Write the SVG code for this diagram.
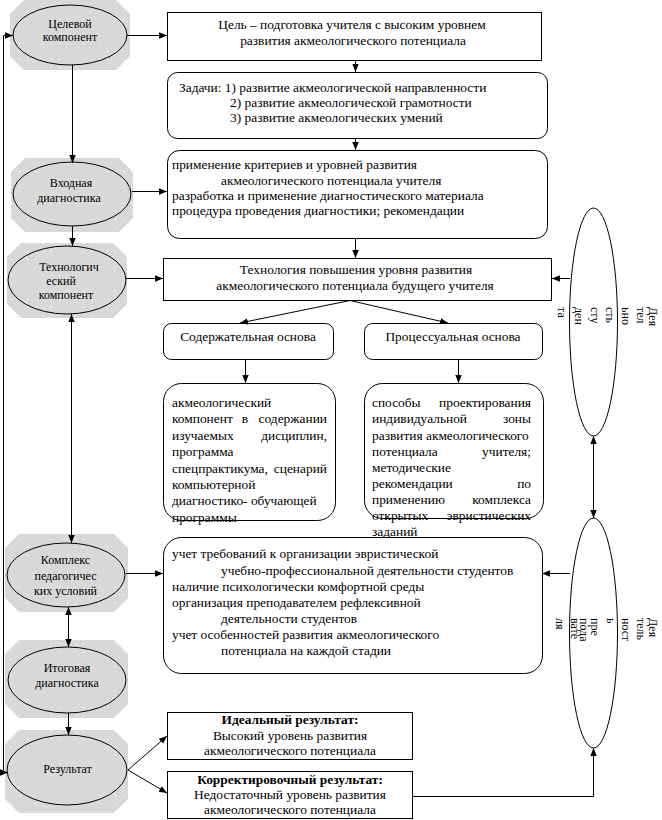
<svg xmlns="http://www.w3.org/2000/svg" width="662" height="820" viewBox="0 0 662 820">
<style>
.t{font-family:"Liberation Serif","Times New Roman",serif;font-size:13.4px;fill:#000}
.e{font-size:12px;text-anchor:middle}
.v{font-size:12px}
.m{text-anchor:middle}
.r{text-anchor:end}
.b{font-weight:bold}
.box{fill:#fff;stroke:#000;stroke-width:1}
.ell{fill:url(#dots);stroke:#000;stroke-width:1}
.sh{fill:url(#dots)}
.oval{fill:#fff;stroke:#000;stroke-width:1}
.c{fill:none;stroke:#000;stroke-width:1}
.a{marker-end:url(#ah)}
.d{marker-start:url(#ah);marker-end:url(#ah)}
</style>
<defs>
<pattern id="dots" width="8" height="8" patternUnits="userSpaceOnUse"><rect width="8" height="8" fill="#d8d8d8"/><rect x="3" y="3" width="1" height="1" fill="#ffffff"/></pattern>
<marker id="ah" viewBox="0 0 10 10" refX="10" refY="5" markerWidth="8" markerHeight="8" markerUnits="userSpaceOnUse" orient="auto-start-reverse"><path d="M0,1 L10,5 L0,9 Z" fill="#000"/></marker>
</defs>
<rect width="662" height="820" fill="#fff"/>

<g id="n-tselevoy">
<path class="sh" d="M24,0 H116 L130,14 V56 L116,70 H24 L10,56 V14 Z"/>
<ellipse class="ell" cx="70" cy="35" rx="57" ry="30"/>
<text class="t e" x="70" y="28">Целевой</text>
<text class="t e" x="70" y="41">компонент</text>
</g>

<g id="n-tsel">
<rect class="box" x="167.5" y="12.5" width="374" height="48"/>
<text class="t m" x="352" y="29">Цель – подготовка учителя с высоким уровнем</text>
<text class="t m" x="353" y="45">развития акмеологического потенциала</text>
</g>

<g id="n-zadachi">
<rect class="box" x="167.5" y="72.5" width="380" height="66" rx="10"/>
<text class="t" x="179" y="92">Задачи:  1) развитие акмеологической направленности</text>
<text class="t" x="230" y="107">2) развитие акмеологической грамотности</text>
<text class="t" x="230" y="122">3) развитие акмеологических умений</text>
</g>

<g id="n-vkhodnaya">
<path class="sh" d="M25,158 H119 L133,172 V218 L119,232 H25 L11,218 V172 Z"/>
<ellipse class="ell" cx="72" cy="194" rx="59" ry="32"/>
<text class="t e" x="71" y="187">Входная</text>
<text class="t e" x="69" y="202">диагностика</text>
</g>

<g id="n-diagnostika">
<rect class="box" x="167.5" y="150.5" width="380" height="88" rx="12"/>
<text class="t" x="172" y="169">применение критериев и уровней развития</text>
<text class="t" x="221" y="185">акмеологического потенциала учителя</text>
<text class="t" x="172" y="200">разработка и применение диагностического материала</text>
<text class="t" x="172" y="215">процедура проведения диагностики; рекомендации</text>
</g>

<g id="n-tekhnologich">
<path class="sh" d="M21,243 H113 L127,257 V304 L113,318 H21 L7,304 V257 Z"/>
<ellipse class="ell" cx="67" cy="280" rx="59" ry="34"/>
<text class="t e" x="69" y="271">Технологич</text>
<text class="t e" x="61" y="285">еский</text>
<text class="t e" x="66" y="299">компонент</text>
</g>

<g id="n-tekhnologiya">
<rect class="box" x="163.5" y="258.5" width="388" height="42"/>
<text class="t m" x="356" y="274">Технология повышения уровня развития</text>
<text class="t m" x="355" y="290">акмеологического потенциала будущего учителя</text>
</g>

<g id="n-soderzh">
<rect class="box" x="163.5" y="323.5" width="170" height="36" rx="8"/>
<text class="t m" x="248" y="341">Содержательная основа</text>
</g>

<g id="n-protsess">
<rect class="box" x="364.5" y="323.5" width="178" height="36" rx="8"/>
<text class="t m" x="453" y="341">Процессуальная основа</text>
</g>

<g id="n-soderzh-text">
<rect class="box" x="163.5" y="383.5" width="172" height="137" rx="18"/>
<text class="t" x="172" y="407">акмеологический</text>
<text class="t" x="172" y="423">компонент</text><text class="t m" x="245" y="423">в</text><text class="t r" x="327" y="423">содержании</text>
<text class="t" x="172" y="440">изучаемых</text><text class="t r" x="327" y="440">дисциплин,</text>
<text class="t" x="172" y="456">программа</text>
<text class="t" x="172" y="473">спецпрактикума,</text><text class="t r" x="327" y="473">сценарий</text>
<text class="t" x="172" y="489">компьютерной</text>
<text class="t" x="172" y="505">диагностико- обучающей</text>
<text class="t" x="172" y="522">программы</text>
</g>

<g id="n-protsess-text">
<rect class="box" x="364.5" y="383.5" width="179" height="135" rx="18"/>
<text class="t" x="372" y="407">способы</text><text class="t r" x="531" y="407">проектирования</text>
<text class="t" x="372" y="423">индивидуальной</text><text class="t r" x="531" y="423">зоны</text>
<text class="t" x="372" y="440">развития акмеологического</text>
<text class="t" x="372" y="456">потенциала</text><text class="t r" x="531" y="456">учителя;</text>
<text class="t" x="372" y="472">методические</text>
<text class="t" x="372" y="488">рекомендации</text><text class="t r" x="531" y="488">по</text>
<text class="t" x="372" y="504">применению</text><text class="t r" x="531" y="504">комплекса</text>
<text class="t" x="372" y="520">открытых</text><text class="t r" x="531" y="520">эвристических</text>
<text class="t" x="372" y="536">заданий</text>
</g>

<g id="n-deyat-stud">
<ellipse class="oval" cx="593.5" cy="322" rx="24" ry="114"/>
<text class="t v" transform="rotate(90)"><tspan x="307" y="-649">Дея</tspan><tspan x="307" y="-637">тел</tspan><tspan x="307" y="-622">ьно</tspan><tspan x="307" y="-606">сть</tspan><tspan x="307" y="-591">сту</tspan><tspan x="307" y="-575">ден</tspan><tspan x="307" y="-558">та</tspan></text>
</g>

<g id="n-kompleks">
<path class="sh" d="M19,534 H114 L128,548 V598 L114,612 H19 L5,598 V548 Z"/>
<ellipse class="ell" cx="66" cy="575" rx="59" ry="32"/>
<text class="t e" x="65.5" y="564">Комплекс</text>
<text class="t e" x="65.5" y="580">педагогичес</text>
<text class="t e" x="65.5" y="595">ких условий</text>
</g>

<g id="n-usloviya">
<rect class="box" x="163.5" y="537.5" width="379" height="136" rx="18"/>
<text class="t" x="172" y="558">учет требований к организации эвристической</text>
<text class="t" x="221" y="575">учебно-профессиональной деятельности студентов</text>
<text class="t" x="172" y="591">наличие психологически комфортной среды</text>
<text class="t" x="172" y="607">организация преподавателем рефлексивной</text>
<text class="t" x="221" y="623">деятельности студентов</text>
<text class="t" x="172" y="639">учет особенностей развития акмеологического</text>
<text class="t" x="221" y="655">потенциала на каждой стадии</text>
</g>

<g id="n-deyat-prep">
<ellipse class="oval" cx="593.5" cy="633" rx="24" ry="115"/>
<text class="t v" transform="rotate(90)"><tspan x="618" y="-649">Дея</tspan><tspan x="618" y="-637">тель</tspan><tspan x="618" y="-622">ност</tspan><tspan x="618" y="-607">ь</tspan><tspan x="618" y="-591">пре</tspan><tspan x="618" y="-580">пода</tspan><tspan x="618" y="-571">вате</tspan><tspan x="618" y="-556">ля</tspan></text>
</g>

<g id="n-itogovaya">
<path class="sh" d="M19,640 H114 L128,654 V704 L114,718 H19 L5,704 V654 Z"/>
<ellipse class="ell" cx="67" cy="680" rx="59" ry="33"/>
<text class="t e" x="67" y="672">Итоговая</text>
<text class="t e" x="67" y="687">диагностика</text>
</g>

<g id="n-rezultat">
<path class="sh" d="M19,730 H114 L128,744 V799 L114,813 H19 L5,799 V744 Z"/>
<ellipse class="ell" cx="67" cy="770" rx="60" ry="35"/>
<text class="t e" x="67.5" y="773">Результат</text>
</g>

<g id="n-idealny">
<rect class="box" x="167.5" y="712.5" width="245" height="47"/>
<text class="t m b" x="290" y="724">Идеальный результат:</text>
<text class="t m" x="290" y="740">Высокий уровень развития</text>
<text class="t m" x="290" y="755">акмеологического потенциала</text>
</g>

<g id="n-korrekt">
<rect class="box" x="167.5" y="771.5" width="245" height="47"/>
<text class="t m b" x="290" y="784">Корректировочный результат:</text>
<text class="t m" x="290" y="799">Недостаточный уровень развития</text>
<text class="t m" x="290" y="814">акмеологического потенциала</text>
</g>

<g id="connectors">
<path class="c a" d="M127,35.5 H167"/>
<path class="c a" d="M72.5,65 V163"/>
<path class="c a" d="M355.5,60 V72"/>
<path class="c a" d="M355.5,138 V150"/>
<path class="c a" d="M132,191.5 H167"/>
<path class="c a" d="M72.5,226 V246"/>
<path class="c a" d="M355.5,238 V258"/>
<path class="c a" d="M126,278.5 H163"/>
<path class="c a" d="M570,278.5 H552"/>
<path class="c a" d="M350,300.5 L240,323"/>
<path class="c a" d="M350,300.5 L448,323"/>
<path class="c a" d="M245.5,359 V383"/>
<path class="c a" d="M458.5,359 V383"/>
<path class="c d" d="M71.5,314 V543"/>
<path class="c d" d="M593.5,436 V518"/>
<path class="c a" d="M126,573.5 H163"/>
<path class="c a" d="M570,573.5 H542"/>
<path class="c d" d="M68.5,607 V647"/>
<path class="c a" d="M68.5,713 V735"/>
<path class="c a" d="M128,770 L167,736"/>
<path class="c a" d="M128,770 L167,793"/>
<path class="c a" d="M412,796.5 H593.5 V748"/>
<path class="c d" d="M8,772.5 H3.5 V35.5 H13"/>
</g>
</svg>
